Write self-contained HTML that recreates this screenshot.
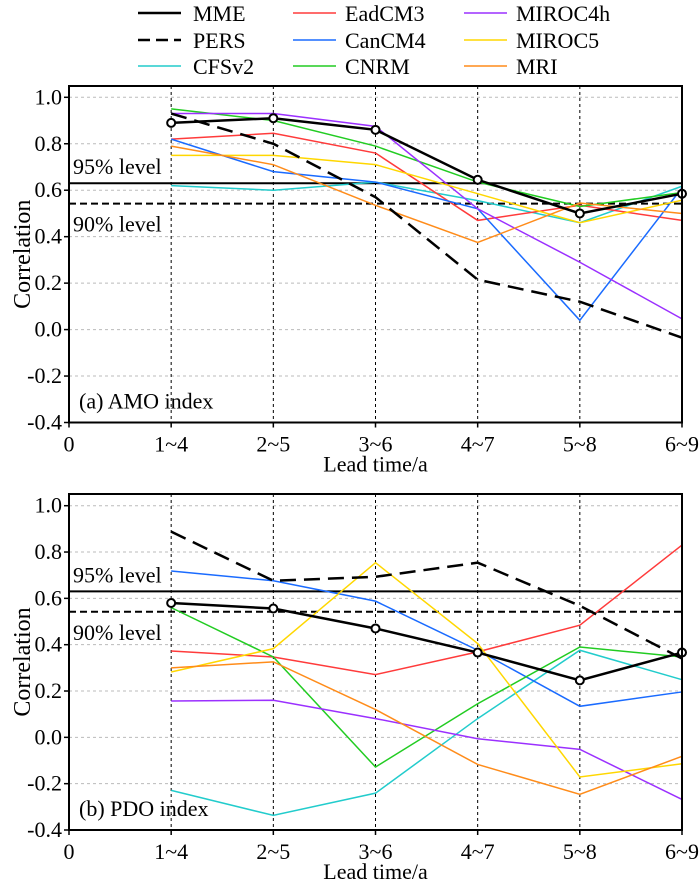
<!DOCTYPE html>
<html><head><meta charset="utf-8"><style>
body{margin:0;background:#fff}
svg{display:block}
svg text{font-family:"Liberation Serif","DejaVu Serif",serif}
</style></head><body>
<svg id="chart" width="700" height="891" viewBox="0 0 700 891" xmlns="http://www.w3.org/2000/svg" font-family="Liberation Serif, DejaVu Serif, serif"></svg>
<script>
const categories = ["1~4","2~5","3~6","4~7","5~8","6~9"];
const xTickLabels = ["0","1~4","2~5","3~6","4~7","5~8","6~9"];
const yTicks = [1.0,0.8,0.6,0.4,0.2,0.0,-0.2,-0.4];
const seriesNames = ["MME","PERS","CFSv2","EadCM3","CanCM4","CNRM","MIROC4h","MIROC5","MRI"];
const amoMME=[0.89,0.91,0.86,0.645,0.50,0.585];
const amoPERS=[0.93,0.80,0.57,0.215,0.12,-0.035];
const amoCFSv2=[0.62,0.60,0.635,0.555,0.46,0.617];
const amoEadCM3=[0.82,0.845,0.76,0.47,0.535,0.47];
const amoCanCM4=[0.82,0.68,0.635,0.52,0.04,0.61];
const amoCNRM=[0.95,0.90,0.79,0.635,0.53,0.59];
const amoMIROC4h=[0.93,0.93,0.875,0.52,0.29,0.046];
const amoMIROC5=[0.75,0.75,0.71,0.585,0.46,0.557];
const amoMRI=[0.79,0.71,0.535,0.375,0.545,0.50];
const pdoMME=[0.58,0.556,0.47,0.366,0.246,0.366];
const pdoPERS=[0.888,0.676,0.693,0.754,0.568,0.34];
const pdoCFSv2=[-0.229,-0.337,-0.241,0.081,0.376,0.249];
const pdoEadCM3=[0.373,0.347,0.271,0.369,0.484,0.83];
const pdoCanCM4=[0.718,0.676,0.588,0.376,0.134,0.196];
const pdoCNRM=[0.56,0.347,-0.128,0.145,0.39,0.347];
const pdoMIROC4h=[0.157,0.16,0.081,-0.006,-0.052,-0.268];
const pdoMIROC5=[0.282,0.383,0.754,0.405,-0.171,-0.114];
const pdoMRI=[0.30,0.326,0.12,-0.117,-0.246,-0.082];
const level95=0.63, level90=0.542;

const colors={MME:"#000",PERS:"#000",CFSv2:"#22cccc",EadCM3:"#ff3b3b",CanCM4:"#1a6bff",CNRM:"#22cc22",MIROC4h:"#9b30ff",MIROC5:"#ffd700",MRI:"#ff8c1a"};
const svg=document.getElementById('chart');
const NS="http://www.w3.org/2000/svg";
const FF="Liberation Serif, DejaVu Serif, serif";
function mk(tag,attrs,parent){const e=document.createElementNS(NS,tag);for(const k in attrs)e.setAttribute(k,attrs[k]);if(tag==='text')e.setAttribute('font-family',FF);(parent||svg).appendChild(e);return e;}
const X0=69,X1=682,DX=(X1-X0)/6;
function xScale(i){return X0+i*DX;}

// legend
const legCols=[[138,193],[293,345],[464,516]];
const legOrder=[["MME","PERS","CFSv2"],["EadCM3","CanCM4","CNRM"],["MIROC4h","MIROC5","MRI"]];
const legRows=[13,40,66];
legOrder.forEach((col,c)=>col.forEach((nm,r)=>{
  const g=mk('g',{});
  
  
  const bold=(nm==="MME"||nm==="PERS");
  mk('line',{x1:legCols[c][0],x2:legCols[c][0]+43,y1:legRows[r],y2:legRows[r],stroke:colors[nm],'stroke-width':bold?2.5:1.5,'stroke-dasharray':nm==="PERS"?"12,6":"none"},g);
  const t=mk('text',{x:legCols[c][1],y:legRows[r]+8,'font-size':22,fill:'#000'},g);t.textContent=nm;
}));

function panel(key,top,v1y,v4y,data,label){
  const yScale=v=>v4y-(v+0.4)*(v4y-v1y)/1.4;
  const g=mk('g',{});
  
  
  yTicks.forEach(v=>{
    if(v>-0.39) { const l=mk('line',{x1:X0,x2:X1,y1:yScale(v),y2:yScale(v),stroke:'#bbb','stroke-width':1,'stroke-dasharray':'3,3'},g);
       }
    mk('line',{x1:X0-5,x2:X0,y1:yScale(v),y2:yScale(v),stroke:'#000','stroke-width':1.5},g);
    const t=mk('text',{x:X0-7,y:yScale(v)+7,'font-size':22,'text-anchor':'end'},g);t.textContent=v.toFixed(1);
    
  });
  for(let i=1;i<=6;i++){
    mk('line',{x1:xScale(i),x2:xScale(i),y1:top,y2:v4y,stroke:'#000','stroke-width':1,'stroke-dasharray':'3,3'},g);
  }
  xTickLabels.forEach((s,i)=>{
    mk('line',{x1:xScale(i),x2:xScale(i),y1:v4y,y2:v4y+5,stroke:'#000','stroke-width':1.5},g);
    const t=mk('text',{x:xScale(i),y:v4y+29,'font-size':22,'text-anchor':'middle'},g);t.textContent=s;
    
  });
  mk('line',{x1:X0,x2:X1,y1:yScale(level95),y2:yScale(level95),stroke:'#000','stroke-width':2},g);
  mk('line',{x1:X0,x2:X1,y1:yScale(level90),y2:yScale(level90),stroke:'#000','stroke-width':2,'stroke-dasharray':'7,4'},g);
  let t=mk('text',{x:73,y:yScale(level95)-9,'font-size':22},g);t.textContent="95% level";
  
  t=mk('text',{x:73,y:yScale(level90)+28,'font-size':22},g);t.textContent="90% level";
  
  const order=["CFSv2","EadCM3","CanCM4","CNRM","MIROC4h","MIROC5","MRI","PERS","MME"];
  order.forEach(nm=>{
    const vals=data[nm];
    const pts=vals.map((v,i)=>xScale(i+1)+','+yScale(v)).join(' ');
    const bold=(nm==="MME"||nm==="PERS");
    const p=mk('polyline',{points:pts,fill:'none',stroke:colors[nm],'stroke-width':bold?2.5:1.5,'stroke-dasharray':nm==="PERS"?"16,8":"none"},g);
    
    
    if(nm==="MME") vals.forEach((v,i)=>{
      const c=mk('circle',{cx:xScale(i+1),cy:yScale(v),r:4,fill:'#fff',stroke:'#000','stroke-width':2},g);
      
    });
  });
  mk('rect',{x:X0,y:top,width:X1-X0,height:v4y-top,fill:'none',stroke:'#000','stroke-width':2},g);
  t=mk('text',{x:79,y:v4y-14,'font-size':22},g);t.textContent=label;
  
  t=mk('text',{x:(X0+X1)/2,y:v4y+49,'font-size':22,'text-anchor':'middle'},g);t.textContent="Lead time/a";
  
  const cy=(top+v4y)/2;
  t=mk('text',{x:30,y:cy,'font-size':24,'text-anchor':'middle',transform:`rotate(-90 30 ${cy})`},g);t.textContent="Correlation";
  
}
panel('amo',86,97.3,422.5,{MME:amoMME,PERS:amoPERS,CFSv2:amoCFSv2,EadCM3:amoEadCM3,CanCM4:amoCanCM4,CNRM:amoCNRM,MIROC4h:amoMIROC4h,MIROC5:amoMIROC5,MRI:amoMRI},"(a) AMO index");
panel('pdo',494,505.7,830,{MME:pdoMME,PERS:pdoPERS,CFSv2:pdoCFSv2,EadCM3:pdoEadCM3,CanCM4:pdoCanCM4,CNRM:pdoCNRM,MIROC4h:pdoMIROC4h,MIROC5:pdoMIROC5,MRI:pdoMRI},"(b) PDO index");
</script>
</body></html>
